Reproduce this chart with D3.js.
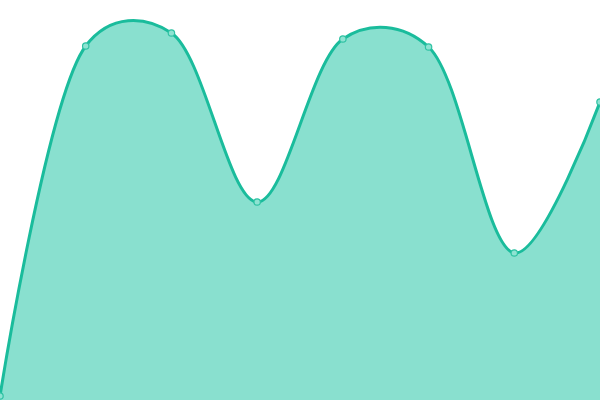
<!DOCTYPE html>
<html>
<head>
<meta charset="utf-8">
<script src="https://cdn.jsdelivr.net/npm/d3@7"></script>
<style>
  body { margin: 0; background: #fff; }
  svg { display: block; }
</style>
</head>
<body>
<script>
// area chart, smooth curve through the points

var width = 600,
    height = 400;

// data
var xIndex = [0, 1, 2, 3, 4, 5, 6, 7];
var values = [4, 354, 367, 198, 361, 353, 147, 298];

var data = xIndex.map(function(d, i) { return { x: d, y: values[i] }; });

var x = d3.scaleLinear().domain([0, 7]).range([0, width]);
var y = d3.scaleLinear().domain([0, 400]).range([height, 0]);

var curve = d3.curveCatmullRom.alpha(0.3);

var svg = d3.select('body').append('svg')
    .attr('width', width)
    .attr('height', height);

var area = d3.area()
    .x(function(d) { return x(d.x); })
    .y0(height)
    .y1(function(d) { return y(d.y); })
    .curve(curve);

var line = d3.line()
    .x(function(d) { return x(d.x); })
    .y(function(d) { return y(d.y); })
    .curve(curve);

svg.append('path')
    .datum(data)
    .attr('d', area)
    .style('fill', '#89e0cf');

svg.append('path')
    .datum(data)
    .attr('d', line)
    .style('fill', 'none')
    .style('stroke', '#1abc9c')
    .style('stroke-width', 3);

svg.selectAll('circle')
    .data(data)
    .enter().append('circle')
    .attr('cx', function(d) { return x(d.x); })
    .attr('cy', function(d) { return y(d.y); })
    .attr('r', 3.2)
    .style('fill', '#8ee3d2')
    .style('stroke', '#2fc2a3')
    .style('stroke-width', 1.2);
</script>
</body>
</html>
